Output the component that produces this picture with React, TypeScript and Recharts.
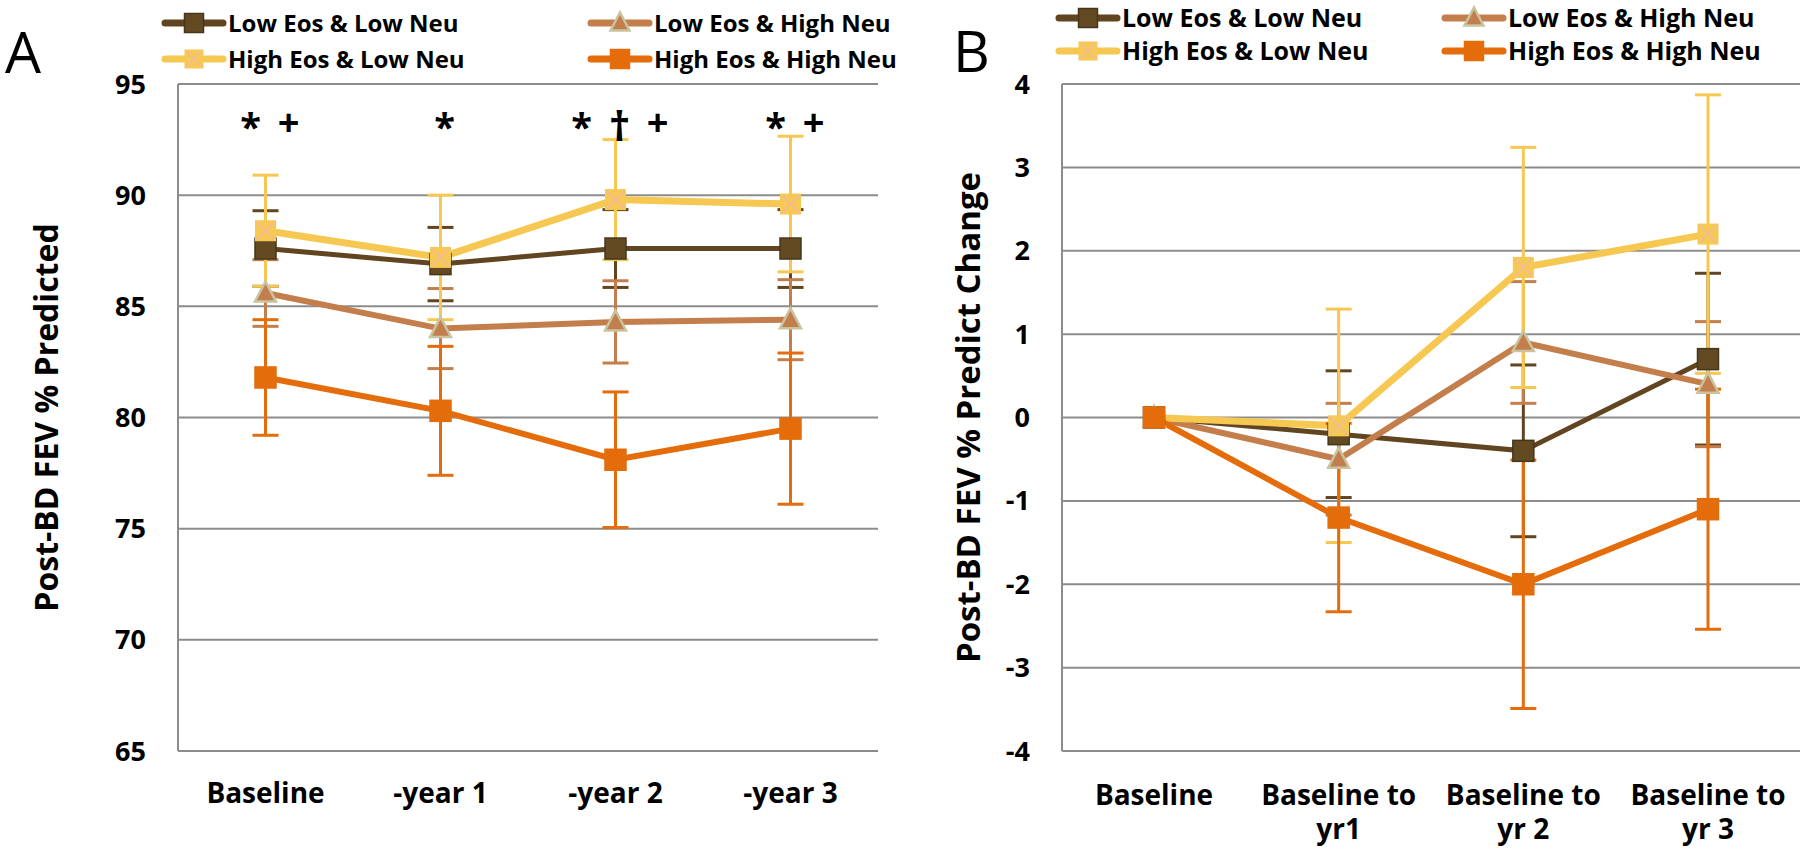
import React from "react";
import {
  LineChart,
  Line,
  XAxis,
  YAxis,
  CartesianGrid,
  ErrorBar,
  ReferenceDot,
  Label,
} from "recharts";

const FONT = "'Open Sans', 'Liberation Sans', sans-serif";
const GRID = "#8c8c8c";

// Panel A: Post-BD FEV % predicted
const categoriesA = ["Baseline", "-year 1", "-year 2", "-year 3"];
const lowLowA = [87.6, 86.9, 87.6, 87.6];
const lowLowErrA = [1.7, 1.65, 1.75, 1.75];
const lowHighA = [85.6, 84.0, 84.3, 84.4];
const lowHighErrA = [1.5, 1.8, 1.85, 1.8];
const highLowA = [88.4, 87.2, 89.8, 89.6];
const highLowErrA = [2.5, 2.8, 2.7, 3.05];
const highHighA = [81.8, 80.3, 78.1, 79.5];
const highHighErrA = [2.6, 2.9, 3.05, 3.4];
const ticksA = [65, 70, 75, 80, 85, 90, 95];
const signifA = ["* +", "*", "* \u2020 +", "* +"];
const signifLevelA = 92.45;

// Panel B: change from baseline
const categoriesB = ["Baseline", "Baseline to\nyr1", "Baseline to\nyr 2", "Baseline to\nyr 3"];
const lowLowB = [0, -0.2, -0.4, 0.7];
const lowLowErrB = [0, 0.76, 1.03, 1.03];
const lowHighB = [0, -0.5, 0.9, 0.4];
const lowHighErrB = [0, 0.67, 0.73, 0.75];
const highLowB = [0, -0.1, 1.8, 2.2];
const highLowErrB = [0, 1.4, 1.44, 1.67];
const highHighB = [0, -1.2, -2.0, -1.1];
const highHighErrB = [0, 1.13, 1.49, 1.44];
const ticksB = [-4, -3, -2, -1, 0, 1, 2, 3, 4];

const series = [
  { key: "lowLow", name: "Low Eos & Low Neu", color: "#604520", width: 5, marker: "sq", fill: "#634a22", edge: "#45371c" },
  { key: "lowHigh", name: "Low Eos & High Neu", color: "#c47e4b", width: 6, marker: "tri", fill: "#c27f4d", edge: "#c9c39f" },
  { key: "highLow", name: "High Eos & Low Neu", color: "#f6c852", width: 7, marker: "xsq", fill: "#f6c854", edge: "#f2b8a2" },
  { key: "highHigh", name: "High Eos & High Neu", color: "#e46c0a", width: 6, marker: "sq", fill: "#e46c0a", edge: "#e46c0a" },
];

const rowsA = categoriesA.map((cat, i) => ({
  cat,
  lowLow: lowLowA[i],
  lowLowErr: lowLowErrA[i],
  lowHigh: lowHighA[i],
  lowHighErr: lowHighErrA[i],
  highLow: highLowA[i],
  highLowErr: highLowErrA[i],
  highHigh: highHighA[i],
  highHighErr: highHighErrA[i],
}));

const rowsB = categoriesB.map((cat, i) => ({
  cat,
  lowLow: lowLowB[i],
  lowLowErr: lowLowErrB[i],
  lowHigh: lowHighB[i],
  lowHighErr: lowHighErrB[i],
  highLow: highLowB[i],
  highLowErr: highLowErrB[i],
  highHigh: highHighB[i],
  highHighErr: highHighErrB[i],
}));

function Marker({ s, cx, cy, size = 21 }: any) {
  if (cx == null || cy == null) return null;
  const h = size / 2;
  if (s.marker === "tri") {
    return (
      <polygon
        points={`${cx},${cy - h - 1} ${cx - h},${cy + h - 2} ${cx + h},${cy + h - 2}`}
        fill={s.fill}
        stroke={s.edge}
        strokeWidth={2.5}
      />
    );
  }
  if (s.marker === "xsq") {
    return (
      <g>
        <rect x={cx - h} y={cy - h} width={size} height={size} fill={s.fill} />
        <path
          d={`M${cx - h + 2},${cy - h + 2}L${cx + h - 2},${cy + h - 2}M${cx + h - 2},${cy - h + 2}L${cx - h + 2},${cy + h - 2}`}
          stroke={s.edge}
          strokeWidth={1.5}
        />
      </g>
    );
  }
  return (
    <rect x={cx - h} y={cy - h} width={size} height={size} fill={s.fill} stroke={s.edge} strokeWidth={1.5} />
  );
}

const makeXTick = (firstDy: number) => (props: any) => {
  const { x, y, payload } = props;
  const lines = String(payload.value).split("\n");
  return (
    <text x={x} y={y} textAnchor="middle" fontFamily={FONT} fontSize={28} fontWeight={700} fill="#000">
      {lines.map((l, i) => (
        <tspan key={i} x={x} dy={i === 0 ? firstDy : 34}>
          {l}
        </tspan>
      ))}
    </text>
  );
};

const yTickStyle = { fontSize: 27, fontWeight: 700, fill: "#000", fontFamily: FONT };

const yTitle = (text: string, offset: number, size: number) => (props: any) => {
  const vb = props.viewBox;
  const cx = vb.x + offset;
  const cy = vb.y + vb.height / 2;
  return (
    <text
      x={cx}
      y={cy}
      transform={`rotate(-90, ${cx}, ${cy})`}
      textAnchor="middle"
      fontFamily={FONT}
      fontSize={size}
      fontWeight={700}
      fill="#000"
    >
      {text}
    </text>
  );
};

function seriesLines() {
  return series.map((s) => (
    <Line
      key={s.key}
      type="linear"
      dataKey={s.key}
      stroke={s.color}
      strokeWidth={s.width}
      isAnimationActive={false}
      dot={(p: any) => <Marker key={`${s.key}-${p.index}`} s={s} cx={p.cx} cy={p.cy} />}
      activeDot={false}
    >
      <ErrorBar dataKey={`${s.key}Err`} direction="y" width={13} strokeWidth={3} stroke={s.color} />
    </Line>
  ));
}

// significance symbols, spread evenly around the category position
const SignifMark = ({ cx, cy, text }: any) => {
  if (cx == null || cy == null) return null;
  const parts = text.split(" ");
  const n = parts.length;
  return (
    <g>
      {parts.map((t: string, i: number) => (
        <text
          key={i}
          x={cx + 4 + (i - (n - 1) / 2) * 38}
          y={t === "+" ? cy - 5 : cy}
          textAnchor="middle"
          fontFamily={FONT}
          fontSize={t === "\u2020" ? 42 : 38}
          fontWeight={700}
          fill="#000"
        >
          {t}
        </text>
      ))}
    </g>
  );
};

function Legend({ x1, x2, y1, y2, fontSize }: any) {
  const slots = [
    [x1, y1],
    [x2, y1],
    [x1, y2],
    [x2, y2],
  ];
  return (
    <g>
      {series.map((s, i) => {
        const [x, y] = slots[i];
        return (
          <g key={s.key}>
            <line x1={x} x2={x + 58} y1={y - 9} y2={y - 9} stroke={s.color} strokeWidth={7} strokeLinecap="round" />
            <Marker s={s} cx={x + 29} cy={y - 9} size={19} />
            <text x={x + 63} y={y} fontFamily={FONT} fontSize={fontSize} fontWeight={700} fill="#000">
              {s.name}
            </text>
          </g>
        );
      })}
    </g>
  );
}

function PanelA() {
  return (
    <LineChart width={900} height={855} data={rowsA} margin={{ top: 84, right: 22, bottom: 0, left: 0 }}>
      <CartesianGrid vertical={false} stroke={GRID} strokeWidth={2} />
      <XAxis
        dataKey="cat"
        height={104}
        padding={{ left: 87.5, right: 87.5 }}
        axisLine={{ stroke: GRID, strokeWidth: 2 }}
        tickLine={false}
        tickMargin={0}
        interval={0}
        tick={makeXTick(46)}
      />
      <YAxis
        width={178}
        domain={[65, 95]}
        ticks={ticksA}
        axisLine={{ stroke: GRID, strokeWidth: 2 }}
        tickLine={false}
        tickMargin={26}
        tick={yTickStyle}
      >
        <Label content={yTitle("Post-BD FEV % Predicted", 58, 32)} />
      </YAxis>
      {seriesLines()}
      {signifA.map((t, i) => (
        <ReferenceDot
          key={i}
          x={categoriesA[i]}
          y={signifLevelA}
          r={0}
          shape={(p: any) => <SignifMark cx={p.cx} cy={p.cy} text={t} />}
        />
      ))}
    </LineChart>
  );
}

function PanelB() {
  return (
    <LineChart width={900} height={855} data={rowsB} margin={{ top: 84, right: 0, bottom: 0, left: 0 }}>
      <CartesianGrid vertical={false} stroke={GRID} strokeWidth={2} />
      <XAxis
        dataKey="cat"
        height={104}
        padding={{ left: 92, right: 92 }}
        axisLine={{ stroke: GRID, strokeWidth: 2 }}
        tickLine={false}
        tickMargin={0}
        interval={0}
        tick={makeXTick(48)}
      />
      <YAxis
        width={162}
        domain={[-4, 4]}
        ticks={ticksB}
        axisLine={{ stroke: GRID, strokeWidth: 2 }}
        tickLine={false}
        tickMargin={26}
        tick={yTickStyle}
      >
        <Label content={yTitle("Post-BD FEV % Predict Change", 80, 33)} />
      </YAxis>
      {seriesLines()}
    </LineChart>
  );
}

export default function App() {
  return (
    <div
      style={{
        position: "absolute",
        left: 0,
        top: 0,
        width: 1800,
        height: 855,
        background: "#fff",
        overflow: "hidden",
      }}
    >
      <div style={{ position: "absolute", left: 0, top: 0 }}>
        <PanelA />
      </div>
      <div style={{ position: "absolute", left: 900, top: 0 }}>
        <PanelB />
      </div>
      <svg
        width={1800}
        height={855}
        style={{ position: "absolute", left: 0, top: 0, pointerEvents: "none" }}
      >
        <text x={5} y={73} fontFamily={FONT} fontSize={57} fill="#000">
          A
        </text>
        <text x={953} y={72} fontFamily={FONT} fontSize={57} fill="#000">
          B
        </text>
        <Legend x1={165} x2={591} y1={32} y2={68} fontSize={24} />
        <Legend x1={1059} x2={1445} y1={27} y2={60} fontSize={25} />
      </svg>
    </div>
  );
}
